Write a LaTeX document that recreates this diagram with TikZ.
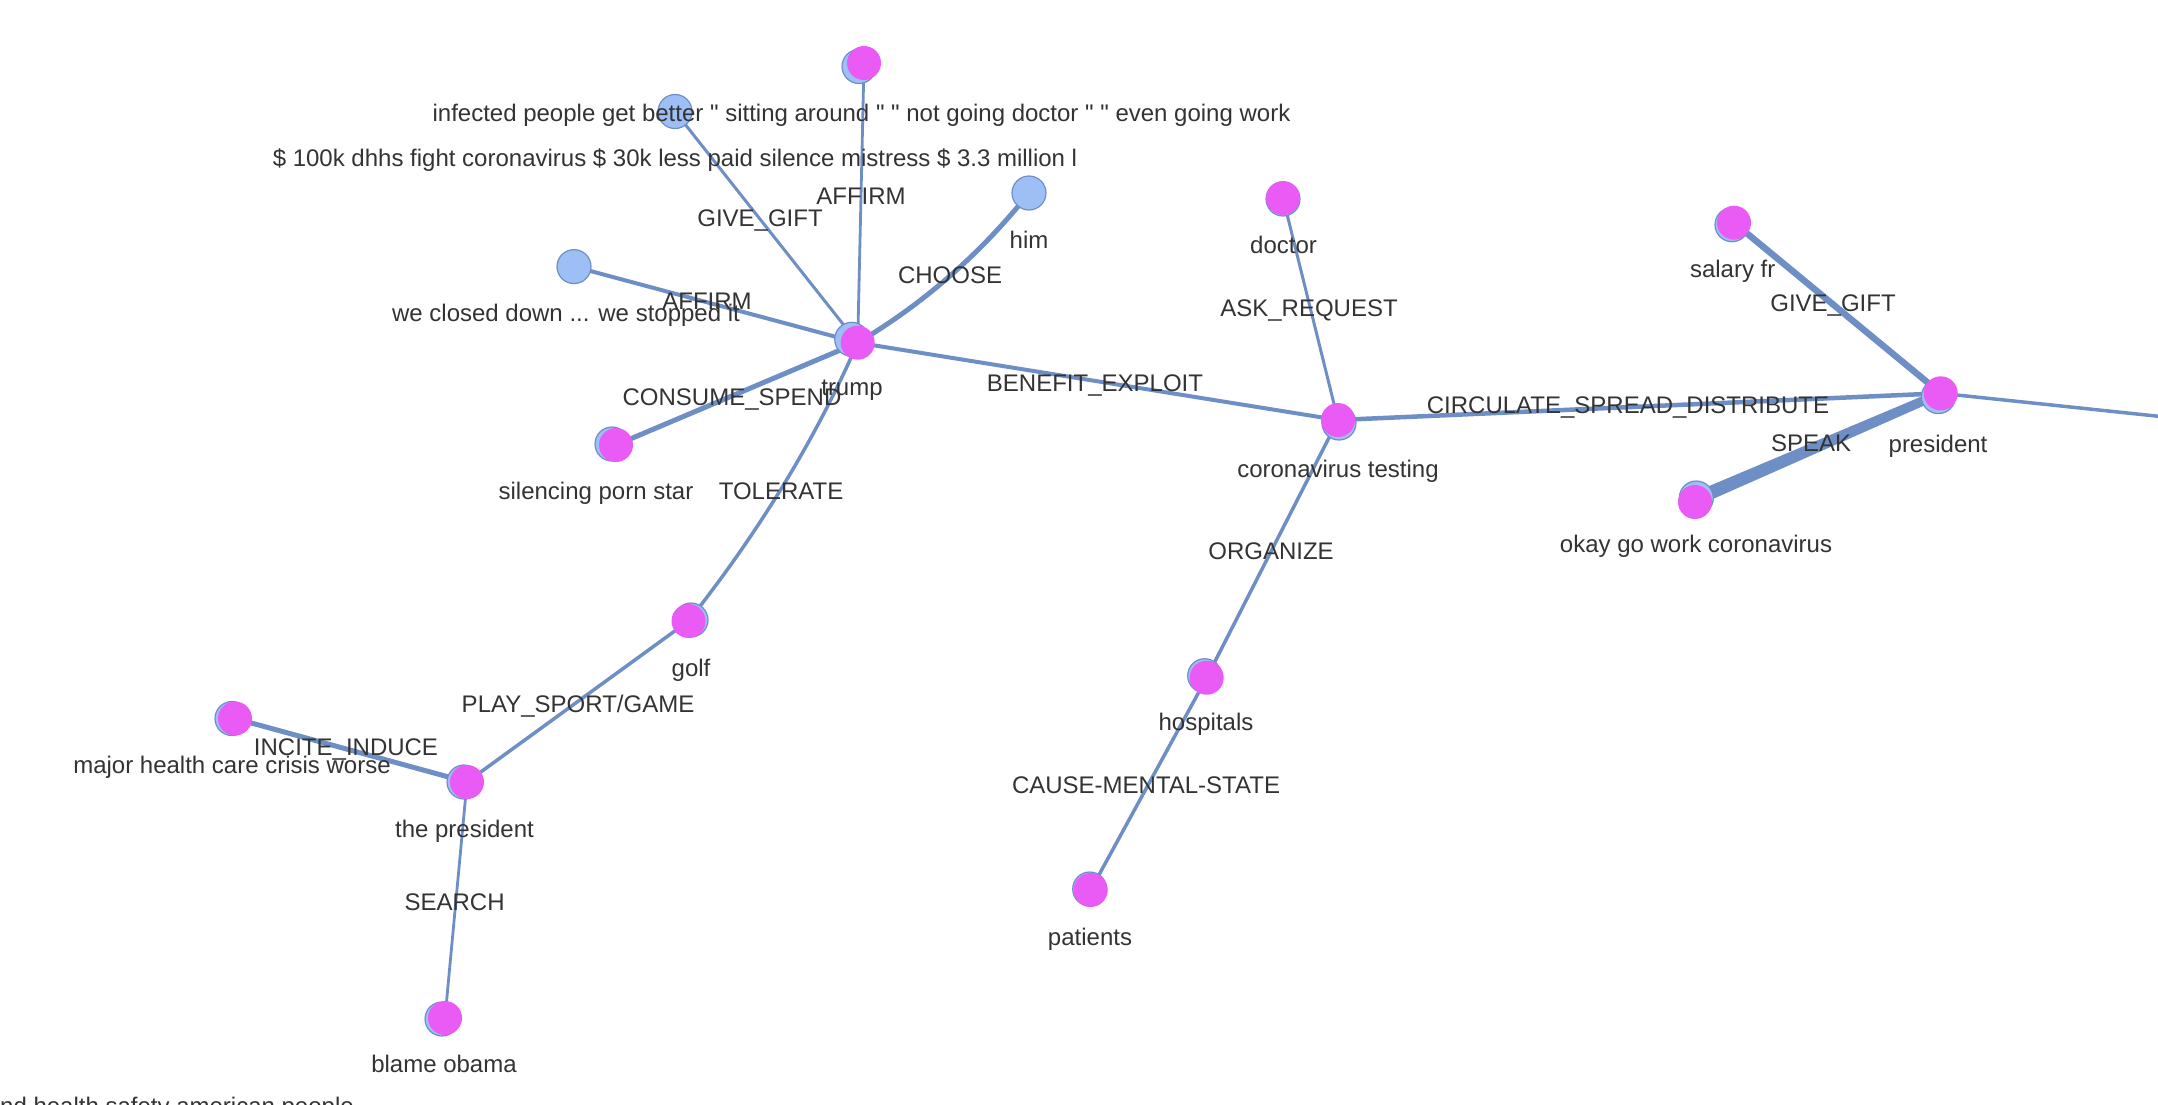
\documentclass[tikz,border=0pt]{standalone}
\usepackage{fontspec}
\setmainfont{Liberation Sans}[Ligatures=TeXOff]
\definecolor{edgec}{HTML}{6E8FC6}
\definecolor{magc}{HTML}{EA5BF5}
\definecolor{bluef}{HTML}{9DBFF5}
\definecolor{txtc}{HTML}{333333}
\tikzset{
  edge/.style={draw=edgec, line cap=round},
  mnode/.style={circle, fill=magc, minimum size=34pt, inner sep=0pt},
  bnode/.style={circle, fill=bluef, draw=edgec, line width=1.2pt, minimum size=34pt, inner sep=0pt},
  lbl/.style={font=\fontsize{24}{28}\selectfont, text=txtc, inner sep=0pt, anchor=base},
}
\begin{document}
\begin{tikzpicture}[x=1pt,y=-1pt]
\useasboundingbox (0,0) rectangle (2158,1104);
% node positions
\coordinate (trump) at (857.7,342.7);
\coordinate (inf) at (864,63);
\coordinate (dol) at (675,111.5);
\coordinate (him) at (1029,193);
\coordinate (wec) at (574,266.6);
\coordinate (sil) at (616,445);
\coordinate (golf) at (688.5,621);
\coordinate (maj) at (235,718.5);
\coordinate (tpr) at (467,782);
\coordinate (bla) at (445,1018);
\coordinate (doc) at (1283,198);
\coordinate (cot) at (1338,420);
\coordinate (hos) at (1206.7,677.7);
\coordinate (pat) at (1090.7,890);
\coordinate (pres) at (1940.7,393.3);
\coordinate (sal) at (1734,222.7);
\coordinate (okay) at (1695,502);
\coordinate (okay2) at (1697,496);
\coordinate (offr) at (2170,417.5);

% edges
\draw[edge, line width=2.8pt] (trump) -- (inf);
\draw[edge, line width=3pt] (trump) -- (dol);
\draw[edge, line width=5pt] (trump) .. controls (923.6,303.6) and (980.7,253.7) .. (him);
\draw[edge, line width=4pt] (trump) -- (wec);
\draw[edge, line width=5pt] (trump) -- (sil);
\draw[edge, line width=3.5pt] (trump) .. controls (815.9,438.4) and (759.6,531.1) .. (golf);
\draw[edge, line width=4pt] (trump) -- (cot);
\draw[edge, line width=3.5pt] (golf) -- (tpr);
\draw[edge, line width=5pt] (tpr) -- (maj);
\draw[edge, line width=2.8pt] (tpr) -- (bla);
\draw[edge, line width=3pt] (cot) -- (doc);
\draw[edge, line width=3.5pt] (cot) -- (hos);
\draw[edge, line width=3.5pt] (hos) -- (pat);
\draw[edge, line width=4.5pt] (cot) -- (pres);
\draw[edge, line width=6.5pt] (pres) -- (sal);
\draw[edge, line width=9pt] (pres) -- (okay);
\draw[edge, line width=9pt] (pres) -- (okay2);
\draw[edge, line width=3.5pt] (pres) -- (offr);

% nodes (blue duplicates behind magenta ones)
\node[bnode] (trumpb) at ([shift={(-6,-3.4)}]trump) {};
\node[mnode] (trumpn) at (trump) {};
\node[bnode] (infb) at ([shift={(-5,3.5)}]inf) {};
\node[mnode] (infn) at (inf) {};
\node[bnode] (doln) at (dol) {};
\node[bnode] (himn) at (him) {};
\node[bnode] (wecn) at (wec) {};
\node[bnode] (silb) at ([shift={(-4,-1)}]sil) {};
\node[mnode] (siln) at (sil) {};
\node[bnode] (golfb) at ([shift={(2.5,-1)}]golf) {};
\node[mnode] (golfn) at (golf) {};
\node[bnode] (majb) at ([shift={(-3,0)}]maj) {};
\node[mnode] (majn) at (maj) {};
\node[bnode] (tprb) at ([shift={(-3,0)}]tpr) {};
\node[mnode] (tprn) at (tpr) {};
\node[bnode] (blab) at ([shift={(-3,1)}]bla) {};
\node[mnode] (blan) at (bla) {};
\node[bnode] (docb) at ([shift={(0,1)}]doc) {};
\node[mnode] (docn) at (doc) {};
\node[bnode] (cotb) at ([shift={(1,3)}]cot) {};
\node[mnode] (cotn) at (cot) {};
\node[bnode] (hosb) at ([shift={(-2,-2)}]hos) {};
\node[mnode] (hosn) at (hos) {};
\node[bnode] (patb) at ([shift={(-1,-1)}]pat) {};
\node[mnode] (patn) at (pat) {};
\node[bnode] (presb) at ([shift={(-2.3,3.3)}]pres) {};
\node[mnode] (presn) at (pres) {};
\node[bnode] (salb) at ([shift={(-2,2)}]sal) {};
\node[mnode] (saln) at (sal) {};
\node[bnode] (okayb) at ([shift={(1.3,-4)}]okay) {};
\node[mnode] (okayn) at (okay) {};

% node labels
\node[lbl] (tinf) at (861.5,121.5) {infected people get better " sitting around " " not going doctor " " even going work};
\node[lbl] (tdol) at (675,166.5) {\$ 100k dhhs fight coronavirus \$ 30k less paid silence mistress \$ 3.3 million l};
\node[lbl] (thim) at (1029,248.5) {him};
\node[lbl] (twec) at (566,321.5) {we closed down ... we stopped it};
\node[lbl] (ttrump) at (852,395.5) {trump};
\node[lbl] (tsil) at (596,499.5) {silencing porn star};
\node[lbl] (tgolf) at (691,676.5) {golf};
\node[lbl] (tmaj) at (232,773) {major health care crisis worse};
\node[lbl] (ttpr) at (464.5,837) {the president};
\node[lbl] (tbla) at (444,1072.5) {blame obama};
\node[lbl] (tdoc) at (1283.5,253.5) {doctor};
\node[lbl] (tcot) at (1338,477.5) {coronavirus testing};
\node[lbl] (thos) at (1206,730) {hospitals};
\node[lbl] (tpat) at (1090,945.5) {patients};
\node[lbl] (tpres) at (1938,452.5) {president};
\node[lbl] (tsal) at (1732.7,277.5) {salary fr};
\node[lbl] (tokay) at (1696,552.5) {okay go work coronavirus};
\node[lbl, anchor=north west] (tand) at (0,1097) {nd health safety american people};

% edge labels
\node[lbl] (e1) at (861,204.5) {AFFIRM};
\node[lbl] (e2) at (760,226) {GIVE\_GIFT};
\node[lbl] (e3) at (950,283.5) {CHOOSE};
\node[lbl] (e4) at (707,309.5) {AFFIRM};
\node[lbl] (e5) at (732,405.5) {CONSUME\_SPEND};
\node[lbl] (e6) at (781,499.5) {TOLERATE};
\node[lbl] (e7) at (1095,391.5) {BENEFIT\_EXPLOIT};
\node[lbl] (e8) at (578,712.5) {PLAY\_SPORT/GAME};
\node[lbl] (e9) at (346,755.5) {INCITE\_INDUCE};
\node[lbl] (e10) at (454.6,910) {SEARCH};
\node[lbl] (e11) at (1309,316.5) {ASK\_REQUEST};
\node[lbl] (e12) at (1271,559.5) {ORGANIZE};
\node[lbl] (e13) at (1146,793.5) {CAUSE-MENTAL-STATE};
\node[lbl] (e14) at (1628,413) {CIRCULATE\_SPREAD\_DISTRIBUTE};
\node[lbl] (e15) at (1833,311) {GIVE\_GIFT};
\node[lbl] (e16) at (1811,451.5) {SPEAK};
\end{tikzpicture}
\end{document}
